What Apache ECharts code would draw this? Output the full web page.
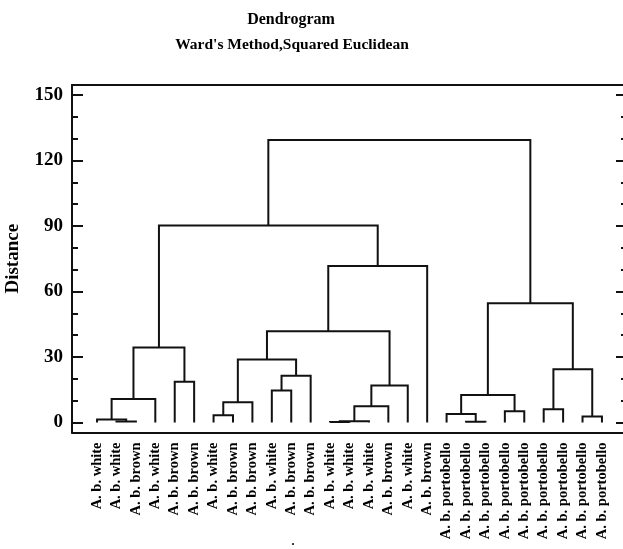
<!DOCTYPE html>
<html>
<head>
<meta charset="utf-8">
<script src="https://cdn.jsdelivr.net/npm/echarts@6/dist/echarts.min.js"></script>
<style>html,body{margin:0;padding:0;background:#fff;}#c{width:623px;height:549px;}</style>
</head>
<body>
<div id="c"></div>
<script>
const leafLabels = [
  'A. b. white','A. b. white','A. b. brown','A. b. white','A. b. brown','A. b. brown',
  'A. b. white','A. b. brown','A. b. brown','A. b. white','A. b. brown','A. b. brown',
  'A. b. white','A. b. white','A. b. white','A. b. brown','A. b. white','A. b. brown',
  'A. b. portobello','A. b. portobello','A. b. portobello','A. b. portobello','A. b. portobello',
  'A. b. portobello','A. b. portobello','A. b. portobello','A. b. portobello'
];
// merge k creates cluster id 27+k
const mergeLeft   = [1, 0, 28, 4, 29, 6, 32, 9, 34, 33, 12, 37, 38, 39, 36, 41, 31, 19, 18, 21, 45, 23, 25, 48, 47, 43];
const mergeRight  = [2, 27, 3, 5, 30, 7, 8, 10, 11, 35, 13, 14, 15, 16, 40, 17, 42, 20, 44, 22, 46, 24, 26, 49, 50, 51];
const mergeHeight = [0.4, 1.3, 10.8, 18.7, 34.3, 3.3, 9.3, 14.6, 21.4, 28.9, 0.2, 0.6, 7.4, 16.9, 41.8, 71.7, 90.2, 0.3, 3.9, 5.1, 12.6, 6.0, 2.7, 24.4, 54.6, 129.4];
const majorTicks = [0, 30, 60, 90, 120, 150];
const minorTicks = [10, 20, 40, 50, 70, 80, 100, 110, 130, 140];

const n = leafLabels.length;
const pos = [], ht = [];
for (let i = 0; i < n; i++) { pos[i] = i; ht[i] = 0; }
const links = [];
for (let k = 0; k < mergeLeft.length; k++) {
  const a = mergeLeft[k], b = mergeRight[k], h = mergeHeight[k];
  links.push([pos[a], ht[a], pos[b], ht[b], h]);
  pos[n + k] = (pos[a] + pos[b]) / 2;
  ht[n + k] = h;
}
const leafIdx = leafLabels.map((_, i) => i);

const FONT = '"Liberation Serif", "Times New Roman", serif';
const ink = '#111';
const gridRect = {left: 72, top: 85, width: 555, height: 347.5, containLabel: false, outerBoundsMode: 'none'};
const yBase = {type: 'value', min: -4.6, max: 154.6, splitLine: {show: false}, offset: 0};

const chart = echarts.init(document.getElementById('c'), null, {renderer: 'canvas'});
chart.setOption({
  animation: false,
  backgroundColor: '#fff',
  grid: [Object.assign({}, gridRect), Object.assign({}, gridRect)],
  graphic: [
    {type: 'text', x: 291, y: 20, style: {text: 'Dendrogram', font: 'bold 16px ' + FONT, fill: '#000', textAlign: 'center', textVerticalAlign: 'middle'}},
    {type: 'text', x: 292, y: 45, style: {text: "Ward's Method,Squared Euclidean", font: 'bold 15.5px ' + FONT, fill: '#000', textAlign: 'center', textVerticalAlign: 'middle'}},
    {type: 'text', x: 293, y: 542, style: {text: '.', font: 'bold 12px ' + FONT, fill: '#000', textAlign: 'center', textVerticalAlign: 'middle'}}
  ],
  xAxis: [
    {type: 'value', gridIndex: 0, min: -1.29, max: 27.29, position: 'bottom',
     axisLine: {show: true, onZero: false, lineStyle: {color: ink, width: 2}},
     axisTick: {show: false}, splitLine: {show: false},
     axisLabel: {show: true, customValues: leafIdx, rotate: 90, margin: 10,
       formatter: v => leafLabels[Math.round(v)] || '',
       fontFamily: FONT, fontWeight: 'bold', fontSize: 14.5, color: '#000'}},
    {type: 'value', gridIndex: 0, min: -1.29, max: 27.29, position: 'top',
     axisLine: {show: true, onZero: false, lineStyle: {color: ink, width: 2}},
     axisTick: {show: false}, axisLabel: {show: false}, splitLine: {show: false}},
    {type: 'value', gridIndex: 1, min: -1.29, max: 27.29, show: false, axisLine: {onZero: false}}
  ],
  yAxis: [
    Object.assign({}, yBase, {gridIndex: 0, position: 'left',
      name: 'Distance', nameLocation: 'middle', nameGap: 49, nameRotate: 90,
      nameTextStyle: {fontFamily: FONT, fontWeight: 'bold', fontSize: 19, color: '#000'},
      axisLine: {show: true, onZero: false, lineStyle: {color: ink, width: 2}},
      axisTick: {show: true, inside: true, length: 11, customValues: majorTicks, lineStyle: {color: ink, width: 2}},
      axisLabel: {show: true, customValues: majorTicks, margin: 9, fontFamily: FONT, fontWeight: 'bold', fontSize: 19, color: '#000'}}),
    Object.assign({}, yBase, {gridIndex: 0, position: 'right',
      axisLine: {show: true, onZero: false, lineStyle: {color: ink, width: 2}},
      axisTick: {show: true, inside: true, length: 11, customValues: majorTicks, lineStyle: {color: ink, width: 2}},
      axisLabel: {show: false}}),
    Object.assign({}, yBase, {gridIndex: 1, position: 'left',
      axisLine: {show: false, onZero: false},
      axisTick: {show: true, inside: true, length: 6, customValues: minorTicks, lineStyle: {color: ink, width: 2}},
      axisLabel: {show: false}}),
    Object.assign({}, yBase, {gridIndex: 1, position: 'right',
      axisLine: {show: false, onZero: false},
      axisTick: {show: true, inside: true, length: 6, customValues: minorTicks, lineStyle: {color: ink, width: 2}},
      axisLabel: {show: false}})
  ],
  series: [{
    type: 'custom',
    xAxisIndex: 0, yAxisIndex: 0,
    clip: false,
    data: links,
    encode: {x: [0, 2], y: [1, 3, 4]},
    renderItem: function (params, api) {
      const xl = api.value(0), hl = api.value(1), xr = api.value(2), hr = api.value(3), h = api.value(4);
      const pts = [api.coord([xl, hl]), api.coord([xl, h]), api.coord([xr, h]), api.coord([xr, hr])];
      return {type: 'polyline', shape: {points: pts}, style: {stroke: ink, lineWidth: 2, fill: null}};
    }
  }]
});
</script>
</body>
</html>
